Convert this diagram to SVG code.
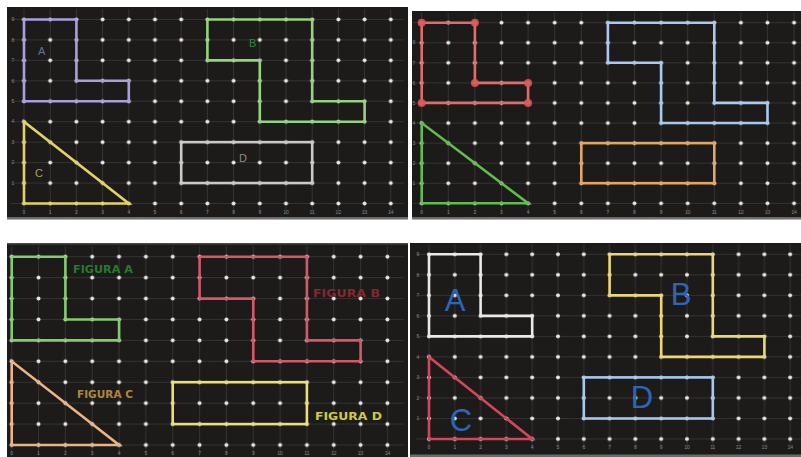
<svg xmlns="http://www.w3.org/2000/svg" width="801" height="457" viewBox="0 0 801 457">
<style>
.panel{fill:#1d1b19}
.edge{fill:#6b6b6b}
.fig{fill:none;stroke-width:2.6;stroke-linejoin:miter}
.ax{font-family:"Liberation Sans",Arial,sans-serif;font-size:5px;fill:#858585;text-anchor:middle}
.lbl{font-family:"Liberation Sans",Arial,sans-serif;font-size:11px}
.fg{font-family:"DejaVu Sans","Liberation Sans",sans-serif;font-size:10px;font-weight:bold}
.big{font-family:"Liberation Sans",Arial,sans-serif;font-size:31px;fill:#2c66b8;text-anchor:middle}
.gl{stroke:#ffffff;stroke-opacity:0.13;stroke-width:0.8}
.dot{fill:#e6e6e6}
</style>
<defs>
<pattern id="g1" patternUnits="userSpaceOnUse" x="10.9" y="9.225" width="26.2" height="20.45">
<path class="gl" d="M0 10.225H26.2M13.1 0V20.45"/><circle class="dot" cx="13.1" cy="10.225" r="2"/>
</pattern>
<pattern id="g2" patternUnits="userSpaceOnUse" x="408.4" y="12.665" width="26.6" height="20.07">
<path class="gl" d="M0 10.035H26.6M13.3 0V20.07"/><circle class="dot" cx="13.3" cy="10.035" r="2"/>
</pattern>
<pattern id="g3" patternUnits="userSpaceOnUse" x="-1.72" y="246.24" width="26.84" height="20.92">
<path class="gl" d="M0 10.46H26.84M13.42 0V20.92"/><circle class="dot" cx="13.42" cy="10.46" r="2"/>
</pattern>
<pattern id="g4" patternUnits="userSpaceOnUse" x="416.1" y="244.04" width="25.8" height="20.52">
<path class="gl" d="M0 10.26H25.8M12.9 0V20.52"/><circle class="dot" cx="12.9" cy="10.26" r="2"/>
</pattern>
</defs>
<rect width="801" height="457" fill="#ffffff"/>

<!-- Panel 1 -->
<g id="panel1">
<rect class="panel" x="7" y="7" width="401" height="211"/>
<rect class="edge" x="7" y="217" width="401" height="2.5"/>
<rect x="10.9" y="9.225" width="393" height="204.5" fill="url(#g1)"/>
<g class="ax">
<text x="13" y="21.2">9</text><text x="13" y="41.6">8</text><text x="13" y="62.1">7</text><text x="13" y="82.5">6</text><text x="13" y="103">5</text><text x="13" y="123.4">4</text><text x="13" y="143.9">3</text><text x="13" y="164.3">2</text><text x="13" y="184.8">1</text>
<text x="24" y="213.5">0</text><text x="50.2" y="213.5">1</text><text x="76.4" y="213.5">2</text><text x="102.6" y="213.5">3</text><text x="128.8" y="213.5">4</text><text x="155" y="213.5">5</text><text x="181.2" y="213.5">6</text><text x="207.4" y="213.5">7</text><text x="233.6" y="213.5">8</text><text x="259.8" y="213.5">9</text><text x="286" y="213.5">10</text><text x="312.2" y="213.5">11</text><text x="338.4" y="213.5">12</text><text x="364.6" y="213.5">13</text><text x="390.8" y="213.5">14</text>
</g>
<g id="p1-A"><polygon class="fig" stroke="#ab9ee0" points="24,19.45 76.4,19.45 76.4,80.8 128.8,80.8 128.8,101.25 24,101.25"/><text class="lbl" x="38" y="55" fill="#6c6e92">A</text></g>
<g id="p1-B"><polygon class="fig" stroke="#94d47e" fill="#1f4a1c" fill-opacity="0.45" points="207.4,19.45 312.2,19.45 312.2,101.25 364.6,101.25 364.6,121.7 259.8,121.7 259.8,60.35 207.4,60.35"/><text class="lbl" x="249" y="47" fill="#2f8a35">B</text></g>
<g id="p1-C"><polygon class="fig" stroke="#e2d266" points="24,121.7 24,203.5 128.8,203.5"/><text class="lbl" x="35" y="177" fill="#aaa25c">C</text></g>
<g id="p1-D"><rect class="fig" stroke="#c9c9c9" x="181.2" y="142.15" width="131" height="40.9"/><text class="lbl" x="239" y="162" fill="#8c8c8c">D</text></g>
</g>

<!-- Panel 2 -->
<g id="panel2">
<rect class="panel" x="412" y="11" width="389" height="207"/>
<rect class="edge" x="412" y="217" width="389" height="2.5"/>
<rect x="408.4" y="12.665" width="393" height="200.7" fill="url(#g2)"/>
<g class="ax">
<text x="414" y="44.4">8</text><text x="414" y="64.5">7</text><text x="414" y="84.6">6</text><text x="414" y="104.6">5</text><text x="414" y="124.7">4</text><text x="414" y="144.8">3</text><text x="414" y="164.9">2</text><text x="414" y="184.9">1</text>
<text x="421.7" y="213.5">0</text><text x="448.3" y="213.5">1</text><text x="474.9" y="213.5">2</text><text x="501.5" y="213.5">3</text><text x="528.1" y="213.5">4</text><text x="554.7" y="213.5">5</text><text x="581.3" y="213.5">6</text><text x="607.9" y="213.5">7</text><text x="634.5" y="213.5">8</text><text x="661.1" y="213.5">9</text><text x="687.7" y="213.5">10</text><text x="714.3" y="213.5">11</text><text x="740.9" y="213.5">12</text><text x="767.5" y="213.5">13</text><text x="794.1" y="213.5">14</text>
</g>
<g id="p2-A"><polygon class="fig" stroke="#e06c6c" points="421.7,22.7 474.9,22.7 474.9,82.9 528.1,82.9 528.1,102.9 421.7,102.9"/>
<g fill="#e05858" fill-opacity="0.85"><circle cx="421.7" cy="22.7" r="4"/><circle cx="474.9" cy="22.7" r="4"/><circle cx="474.9" cy="82.9" r="4"/><circle cx="528.1" cy="82.9" r="4"/><circle cx="528.1" cy="102.9" r="4"/><circle cx="421.7" cy="102.9" r="4"/></g></g>
<g id="p2-B"><polygon class="fig" stroke="#a9c9f0" points="607.9,22.7 714.3,22.7 714.3,102.9 767.5,102.9 767.5,123 661.1,123 661.1,62.8 607.9,62.8"/></g>
<g id="p2-C"><polygon class="fig" stroke="#62bc4e" fill="#153a14" fill-opacity="0.5" points="421.7,123 421.7,203.3 528.1,203.3"/></g>
<g id="p2-D"><rect class="fig" stroke="#e3a664" x="581.3" y="143.1" width="133" height="40.1"/></g>
</g>

<!-- Panel 3 -->
<g id="panel3">
<rect class="panel" x="7" y="243" width="401" height="214"/>
<rect class="edge" x="7" y="243" width="401" height="1.5" fill-opacity="0.6"/>
<rect x="7" y="246.24" width="397" height="209.2" fill="url(#g3)"/>
<g class="ax">
<text x="11.7" y="454.5">0</text><text x="38.5" y="454.5">1</text><text x="65.4" y="454.5">2</text><text x="92.2" y="454.5">3</text><text x="119.1" y="454.5">4</text><text x="145.9" y="454.5">5</text><text x="172.7" y="454.5">6</text><text x="199.6" y="454.5">7</text><text x="226.4" y="454.5">8</text><text x="253.3" y="454.5">9</text><text x="280.1" y="454.5">10</text><text x="306.9" y="454.5">11</text><text x="333.8" y="454.5">12</text><text x="360.6" y="454.5">13</text><text x="387.5" y="454.5">14</text>
</g>
<g id="p3-A"><polygon class="fig" stroke="#84cc70" fill="#163a16" fill-opacity="0.35" points="11.7,256.7 65.4,256.7 65.4,319.5 119.1,319.5 119.1,340.4 11.7,340.4"/><text class="fg" x="73" y="273" fill="#287a2c" textLength="60" lengthAdjust="spacingAndGlyphs">FIGURA A</text></g>
<g id="p3-B"><polygon class="fig" stroke="#d45868" points="199.6,256.7 306.9,256.7 306.9,340.4 360.6,340.4 360.6,361.3 253.3,361.3 253.3,298.6 199.6,298.6"/><text class="fg" x="313" y="297" fill="#802a32" textLength="67" lengthAdjust="spacingAndGlyphs">FIGURA B</text></g>
<g id="p3-C"><polygon class="fig" stroke="#ebb484" points="11.7,361.3 11.7,445 119.1,445"/><text class="fg" x="77" y="398" fill="#b0863c" textLength="56" lengthAdjust="spacingAndGlyphs">FIGURA C</text></g>
<g id="p3-D"><rect class="fig" stroke="#e9e272" x="172.7" y="382.2" width="134.2" height="41.9"/><text class="fg" x="315" y="420" fill="#d0ca3c" textLength="67" lengthAdjust="spacingAndGlyphs">FIGURA D</text></g>
</g>

<!-- Panel 4 -->
<g id="panel4">
<rect class="panel" x="410" y="243" width="391" height="212"/>
<rect class="edge" x="410" y="454.5" width="391" height="2.5"/>
<rect x="416.1" y="244.04" width="387" height="205.2" fill="url(#g4)"/>
<g class="ax">
<text x="418" y="256">9</text><text x="418" y="276.5">8</text><text x="418" y="297">7</text><text x="418" y="317.6">6</text><text x="418" y="338.1">5</text><text x="418" y="358.6">4</text><text x="418" y="379.1">3</text><text x="418" y="399.7">2</text><text x="418" y="420.2">1</text>
<text x="429" y="448.5">0</text><text x="454.8" y="448.5">1</text><text x="480.6" y="448.5">2</text><text x="506.4" y="448.5">3</text><text x="532.2" y="448.5">4</text><text x="558" y="448.5">5</text><text x="583.8" y="448.5">6</text><text x="609.6" y="448.5">7</text><text x="635.4" y="448.5">8</text><text x="661.2" y="448.5">9</text><text x="687" y="448.5">10</text><text x="712.8" y="448.5">11</text><text x="738.6" y="448.5">12</text><text x="764.4" y="448.5">13</text><text x="790.2" y="448.5">14</text>
</g>
<g id="p4-A"><polygon class="fig" stroke="#e9e9e9" points="429,254.3 480.6,254.3 480.6,315.9 532.2,315.9 532.2,336.4 429,336.4"/><text class="big" x="455" y="311">A</text></g>
<g id="p4-B"><polygon class="fig" stroke="#ead872" points="609.6,254.3 712.8,254.3 712.8,336.4 764.4,336.4 764.4,356.9 661.2,356.9 661.2,295.4 609.6,295.4"/><text class="big" x="681" y="305">B</text></g>
<g id="p4-C"><polygon class="fig" stroke="#d24858" fill="#3a1216" fill-opacity="0.45" points="429,356.9 429,439 532.2,439"/><text class="big" x="461" y="431">C</text></g>
<g id="p4-D"><rect class="fig" stroke="#a6c8ee" fill="#13243a" fill-opacity="0.4" x="583.8" y="377.4" width="129" height="41.1"/><text class="big" x="642" y="408">D</text></g>
</g>

<g id="connectors"/>
</svg>
